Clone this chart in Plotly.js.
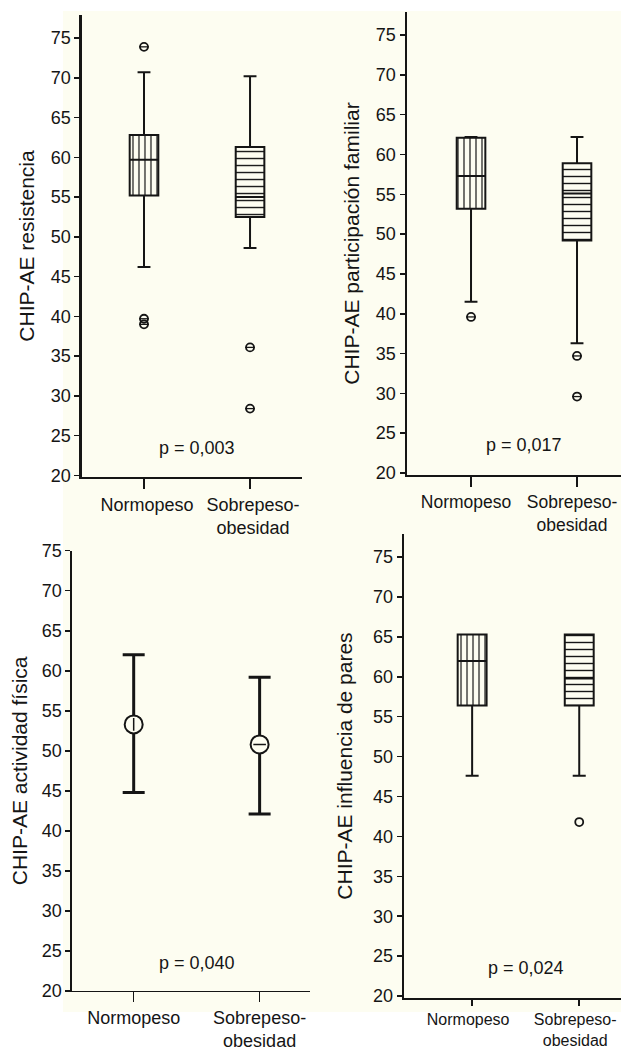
<!DOCTYPE html>
<html>
<head>
<meta charset="utf-8">
<script src="https://cdn.plot.ly/plotly-3.0.1.min.js"></script>
<style>html,body{margin:0;padding:0;background:#fff;}#chart{width:621px;height:1052px;}</style>
</head>
<body>
<div id="chart"></div>
<script>
// ---------- data ----------
const categories = ['Normopeso', 'Sobrepeso-obesidad'];
const tickLabels = ['Normopeso', 'Sobrepeso-<br>obesidad'];

// CHIP-AE resistencia (box plot)
const resQ1 = [55.2, 52.5];
const resMedian = [59.7, 55.0];
const resQ3 = [62.8, 61.3];
const resLow = [46.2, 48.6];
const resHigh = [70.7, 70.2];
const resOutNormo = [73.9, 39.7, 39.0];
const resOutSobre = [36.1, 28.4];

// CHIP-AE participación familiar (box plot)
const famQ1 = [53.2, 49.2];
const famMedian = [57.3, 55.1];
const famQ3 = [62.1, 58.9];
const famLow = [41.5, 36.3];
const famHigh = [62.2, 62.2];
const famOutNormo = [39.6];
const famOutSobre = [34.7, 29.6];

// CHIP-AE actividad física (mean with error bars)
const actMean = [53.3, 50.8];
const actUpper = [62.0, 59.2];
const actLower = [44.8, 42.1];

// CHIP-AE influencia de pares (box plot)
const parQ1 = [56.4, 56.4];
const parMedian = [62.0, 59.8];
const parQ3 = [65.3, 65.3];
const parLow = [47.6, 47.6];
const parHigh = [65.3, 65.3];
const parOutNormo = [];
const parOutSobre = [41.8];

const yTitles = ['CHIP-AE resistencia', 'CHIP-AE participación familiar', 'CHIP-AE actividad física', 'CHIP-AE influencia de pares'];
const pLabels = ['p = 0,003', 'p = 0,017', 'p = 0,040', 'p = 0,024'];
const yTickVals = [20, 25, 30, 35, 40, 45, 50, 55, 60, 65, 70, 75];

// ---------- style ----------
const CREAM = '#fdfdf1';
const INK = '#151515';
const FONT = 'Liberation Sans, Arial, sans-serif';
const pos = categories.map((c, i) => i);

function boxTraces(n, q1, med, q3, lo, hi, outN, outS) {
  const xa = 'x' + (n === 1 ? '' : n), ya = 'y' + (n === 1 ? '' : n);
  const tr = [];
  tr.push({
    type: 'bar', x: pos, base: q1, y: q3.map((v, i) => v - q1[i]), width: 0.27,
    xaxis: xa, yaxis: ya, hoverinfo: 'skip', showlegend: false,
    marker: { color: CREAM, line: { width: 0 },
      pattern: { shape: ['|', '-'], fgcolor: INK, bgcolor: CREAM, size: [6, 7], solidity: 0.2 } }
  });
  tr.push({
    type: 'box', x: pos, q1: q1, median: med, q3: q3, lowerfence: lo, upperfence: hi,
    width: 0.27, whiskerwidth: 0.45, fillcolor: 'rgba(0,0,0,0)', boxpoints: false,
    line: { color: INK, width: 2 }, xaxis: xa, yaxis: ya, showlegend: false
  });
  const ox = outN.map(() => pos[0]).concat(outS.map(() => pos[1]));
  const oy = outN.concat(outS);
  if (oy.length) {
    tr.push({
      type: 'scatter', mode: 'markers', x: ox, y: oy, xaxis: xa, yaxis: ya, showlegend: false,
      marker: { symbol: 'circle-open', size: 8, color: INK, line: { width: 1.8, color: INK } }
    });
    if (n !== 4) {
      tr.push({
        type: 'scatter', mode: 'markers', x: ox, y: oy, xaxis: xa, yaxis: ya, showlegend: false,
        marker: { symbol: 'line-ew', size: 7, color: INK, line: { width: 1.3, color: INK } }
      });
    }
  }
  return tr;
}

const data = []
  .concat(boxTraces(1, resQ1, resMedian, resQ3, resLow, resHigh, resOutNormo, resOutSobre))
  .concat(boxTraces(2, famQ1, famMedian, famQ3, famLow, famHigh, famOutNormo, famOutSobre))
  .concat(boxTraces(4, parQ1, parMedian, parQ3, parLow, parHigh, parOutNormo, parOutSobre));

data.push({
  type: 'scatter', mode: 'markers', x: pos, y: actMean, xaxis: 'x3', yaxis: 'y3', showlegend: false,
  error_y: { type: 'data', symmetric: false,
    array: actUpper.map((v, i) => v - actMean[i]),
    arrayminus: actMean.map((v, i) => v - actLower[i]),
    color: INK, thickness: 3, width: 11 },
  marker: { symbol: 'circle', size: 18, color: CREAM, line: { color: INK, width: 2 } }
});
data.push({
  type: 'scatter', mode: 'markers', x: pos, y: actMean, xaxis: 'x3', yaxis: 'y3', showlegend: false,
  marker: { symbol: ['line-ns', 'line-ew'], size: 9, color: INK, line: { color: INK, width: 1.5 } }
});

function xax(domain, range, lw, fs, tlen, shift) {
  return {
    domain: domain, range: range, showline: true, linecolor: INK, linewidth: lw,
    ticks: 'outside', ticklen: tlen, tickwidth: lw, tickcolor: INK,
    tickvals: pos, ticktext: tickLabels, showgrid: false, zeroline: false,
    ticklabeloverflow: 'allow', ticklabelshift: shift,
    tickfont: { family: FONT, size: fs, color: INK }, fixedrange: true
  };
}
function yax(domain, range, lw, title, standoff, anchor) {
  return {
    domain: domain, range: range, showline: true, linecolor: INK, linewidth: lw,
    ticks: 'outside', ticklen: 5, tickwidth: 1.5, tickcolor: INK,
    tickvals: yTickVals, showgrid: false, zeroline: false, anchor: anchor,
    tickfont: { family: FONT, size: 18, color: INK }, fixedrange: true,
    title: { text: title, font: { family: FONT, size: 21, color: INK }, standoff: standoff }
  };
}

const annotations = pLabels.map((t, i) => ({
  text: t, x: 0.5, y: 23.5, xref: 'x' + (i === 0 ? '' : i + 1), yref: 'y' + (i === 0 ? '' : i + 1),
  showarrow: false, font: { family: FONT, size: 18, color: INK }, xanchor: 'center', yanchor: 'middle'
}));

const layout = {
  width: 621, height: 1052, margin: { l: 0, r: 0, t: 0, b: 0 },
  paper_bgcolor: '#ffffff', plot_bgcolor: 'rgba(0,0,0,0)', showlegend: false,
  font: { family: FONT, color: INK },
  xaxis: Object.assign(xax([0.1320, 0.4863], [-0.585, 1.49], 2, 18, 10, 3), { anchor: 'y' }),
  yaxis: yax([0.5466, 0.9857], [19.8, 77.9], 2.5, yTitles[0], 11, 'x'),
  xaxis2: Object.assign(xax([0.6554, 1.0], [-0.604, 1.415], 2, 17.5, 10, -5), { anchor: 'y2' }),
  yaxis2: yax([0.5485, 0.9886], [19.75, 77.9], 2.5, yTitles[1], 11, 'x2'),
  xaxis3: Object.assign(xax([0.1159, 0.4992], [-0.49, 1.4], 1.5, 18, 10, 0), { anchor: 'y3' }),
  yaxis3: yax([0.0580, 0.4765], [20, 75], 1.5, yTitles[2], 8, 'x3'),
  xaxis4: Object.assign(xax([0.6506, 1.0], [-0.636, 1.39], 2, 16, 6, -4), { anchor: 'y4' }),
  yaxis4: yax([0.0513, 0.4924], [19.75, 77.9], 2.5, yTitles[3], 15, 'x4'),
  shapes: [{
    type: 'rect', xref: 'paper', yref: 'paper', x0: 0.1014, x1: 1.0, y0: 0.038, y1: 0.9895,
    fillcolor: CREAM, line: { width: 0 }, layer: 'below'
  }],
  annotations: annotations
};

Plotly.newPlot('chart', data, layout, { staticPlot: true, displayModeBar: false });
</script>
</body>
</html>
